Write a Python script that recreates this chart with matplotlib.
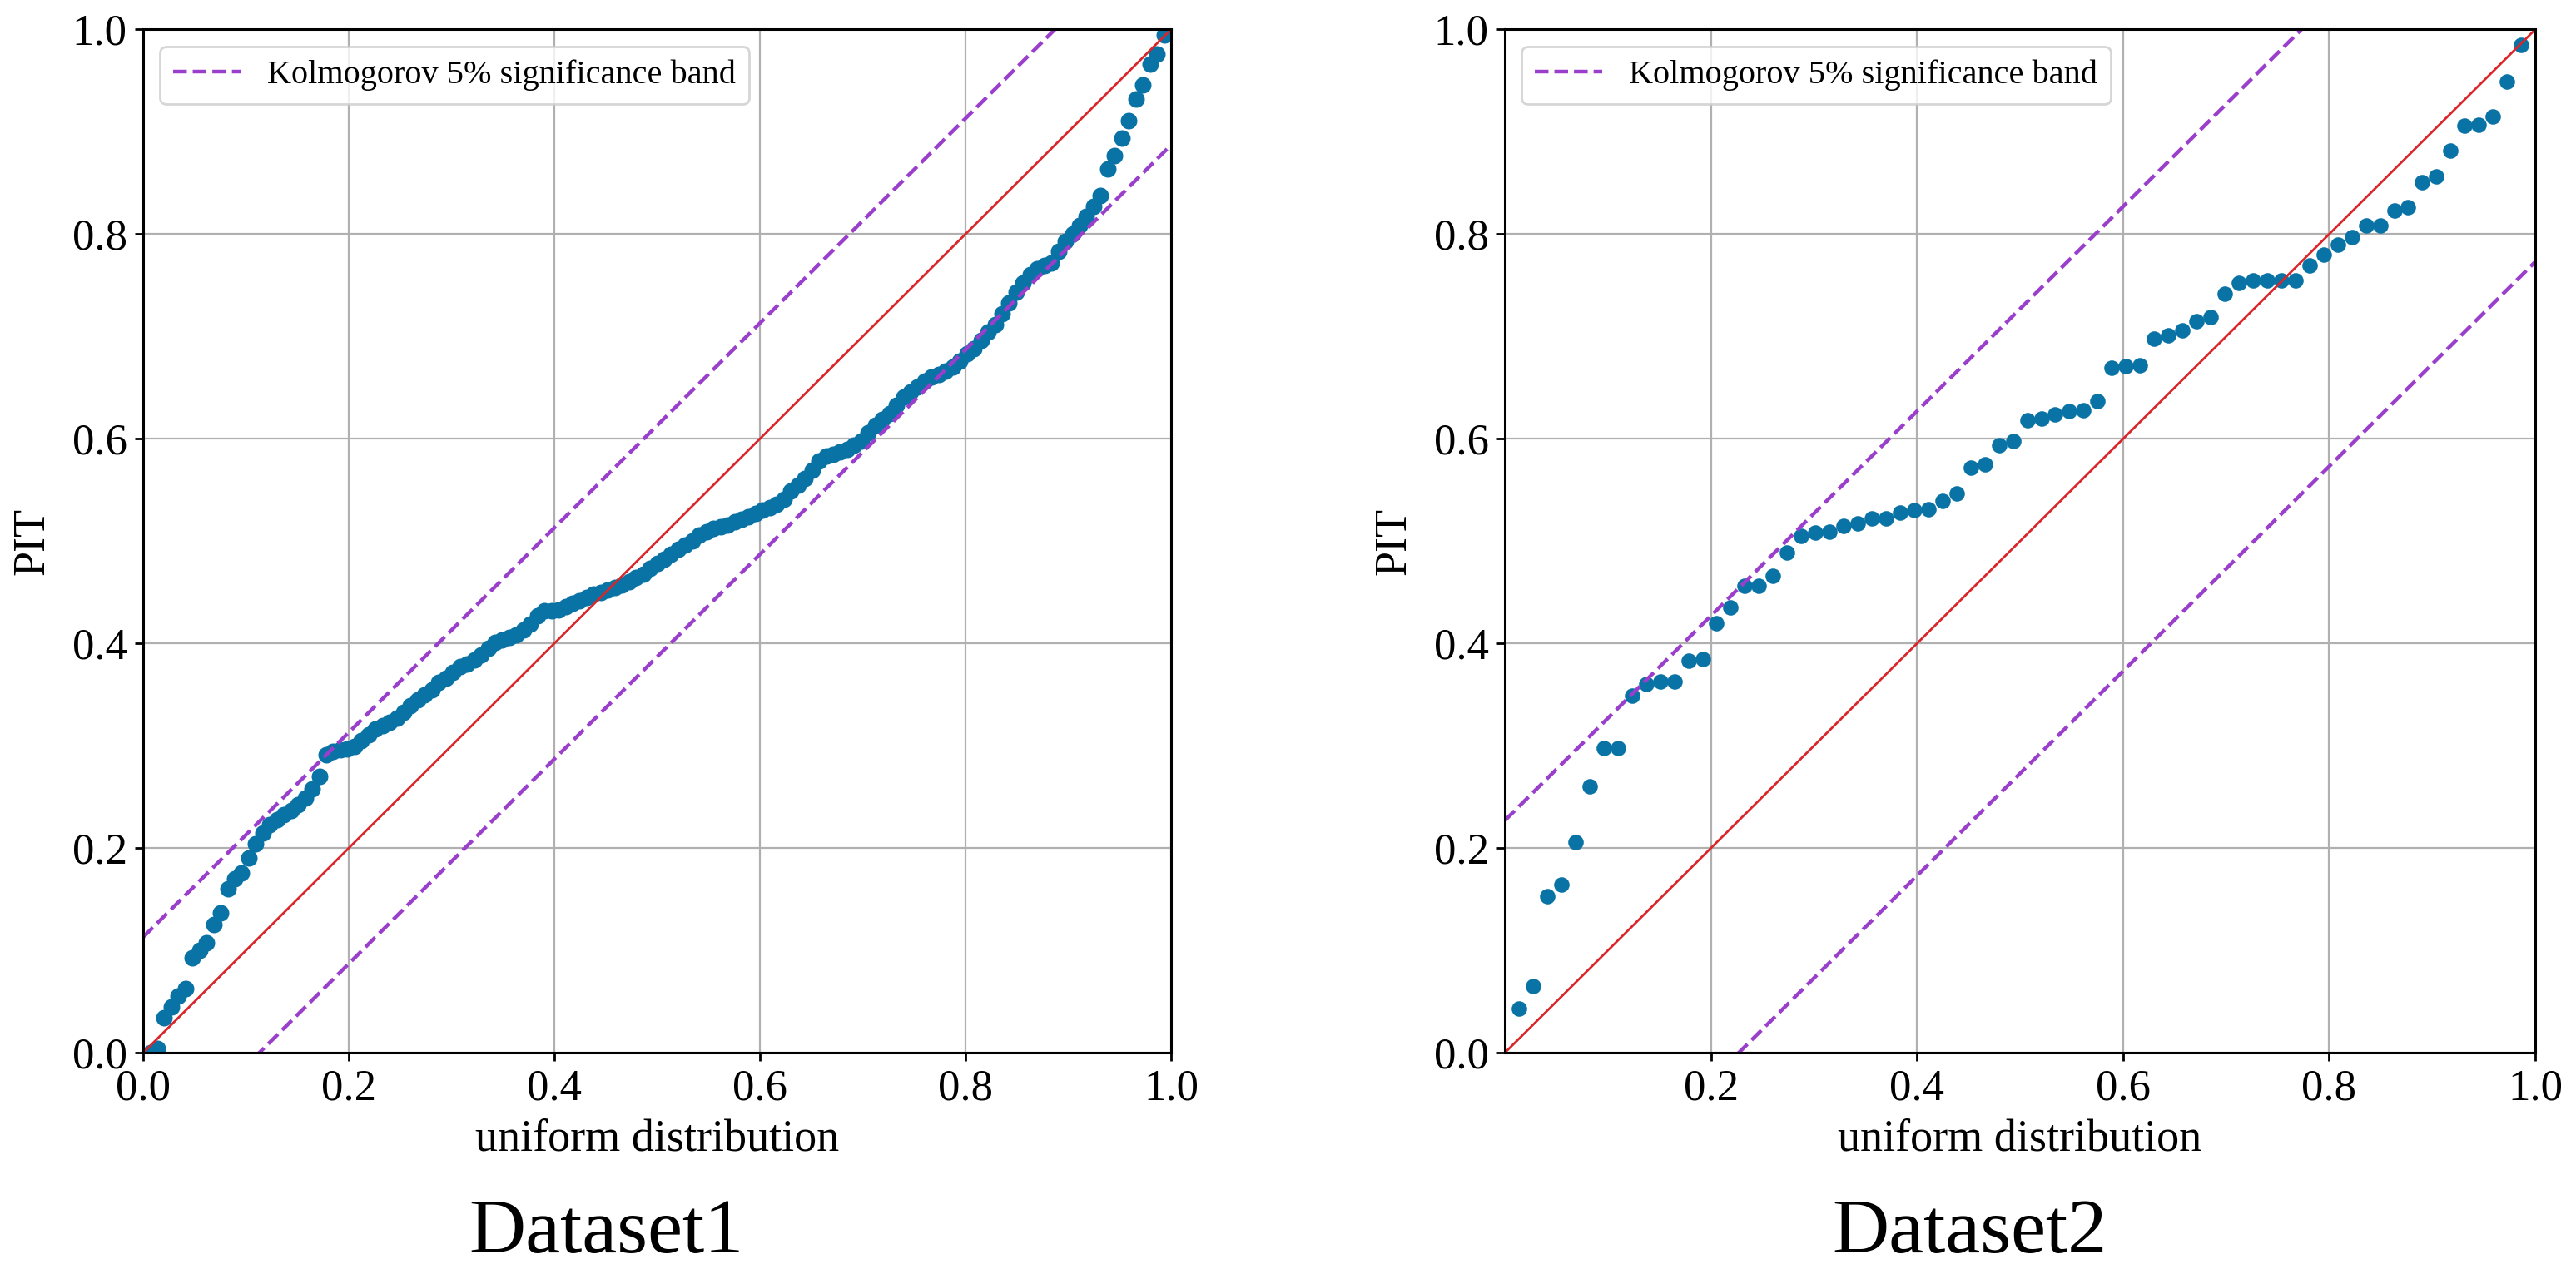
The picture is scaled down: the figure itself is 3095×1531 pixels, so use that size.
import numpy as np
import matplotlib
matplotlib.use("Agg")
import matplotlib.pyplot as plt

SERIF = ["Liberation Serif", "DejaVu Serif"]
plt.rcParams["font.family"] = SERIF

DOT = "#0a73a5"
RED = "#d9262a"
PURPLE = "#9a3fcc"

# sorted PIT values
pit1 = [0.000, 0.004, 0.034, 0.045, 0.055, 0.063, 0.093, 0.100, 0.107, 0.125,
        0.137, 0.160, 0.170, 0.176, 0.190, 0.204, 0.215, 0.223, 0.228, 0.233,
        0.237, 0.242, 0.249, 0.258, 0.270, 0.2915, 0.2945, 0.296, 0.297, 0.299,
        0.305, 0.311, 0.316, 0.320, 0.323, 0.327, 0.333, 0.339, 0.345, 0.350,
        0.355, 0.362, 0.366, 0.372, 0.377, 0.380, 0.384, 0.389, 0.395, 0.401,
        0.403, 0.406, 0.408, 0.413, 0.419, 0.427, 0.432, 0.432, 0.433, 0.436,
        0.439, 0.442, 0.445, 0.448, 0.450, 0.452, 0.455, 0.457, 0.460, 0.464,
        0.468, 0.473, 0.478, 0.482, 0.487, 0.492, 0.496, 0.500, 0.506, 0.509,
        0.512, 0.514, 0.516, 0.519, 0.521, 0.524, 0.527, 0.530, 0.533, 0.536,
        0.541, 0.549, 0.555, 0.561, 0.569, 0.578, 0.583, 0.585, 0.587, 0.590,
        0.594, 0.598, 0.606, 0.613, 0.619, 0.625, 0.633, 0.641, 0.646, 0.651,
        0.656, 0.660, 0.663, 0.666, 0.670, 0.676, 0.683, 0.688, 0.696, 0.704,
        0.712, 0.722, 0.733, 0.743, 0.752, 0.760, 0.766, 0.769, 0.772, 0.783,
        0.793, 0.800, 0.808, 0.817, 0.827, 0.838, 0.864, 0.877, 0.894, 0.911,
        0.932, 0.946, 0.966, 0.976, 0.995]
pit2 = [0.0435, 0.065, 0.153, 0.164, 0.206, 0.260, 0.2976, 0.298, 0.349, 0.360,
        0.363, 0.363, 0.383, 0.385, 0.4195, 0.4355, 0.456, 0.456, 0.466, 0.4885,
        0.505, 0.508, 0.509, 0.515, 0.517, 0.5225, 0.5225, 0.528, 0.530, 0.531,
        0.539, 0.5465, 0.572, 0.575, 0.594, 0.598, 0.618, 0.620, 0.624, 0.627,
        0.628, 0.637, 0.669, 0.671, 0.672, 0.698, 0.701, 0.706, 0.715, 0.719,
        0.742, 0.752, 0.755, 0.755, 0.755, 0.755, 0.769, 0.780, 0.790, 0.797,
        0.808, 0.808, 0.823, 0.826, 0.851, 0.856, 0.8815, 0.906, 0.907, 0.915,
        0.9487, 0.985]

# Kolmogorov band half-widths
band1 = 0.113
band2 = 0.227

names = ["Dataset1", "Dataset2"]
ticks1 = [0.0, 0.2, 0.4, 0.6, 0.8, 1.0]
ticks2 = [0.2, 0.4, 0.6, 0.8, 1.0]

fig = plt.figure(figsize=(15.475, 7.655), dpi=200)
ax1 = fig.add_axes([0.0556, 0.1737, 0.3990, 0.8032])
ax2 = fig.add_axes([0.5842, 0.1737, 0.4000, 0.8032])

line = np.array([0.0, 1.0])
panels = ((ax1, pit1, band1, ticks1, 7.2), (ax2, pit2, band2, ticks2, 6.7))
for ax, pit, band, xt, ms in panels:
    n = len(pit)
    u = np.arange(1, n + 1) / (n + 1)
    ax.plot(u, pit, "o", color=DOT, markersize=ms, markeredgewidth=0)
    ax.plot(line, line, color=RED, linewidth=1.0)
    ax.plot(line, line + band, "--", color=PURPLE, linewidth=1.6,
            label="Kolmogorov 5% significance band")
    ax.plot(line, line - band, "--", color=PURPLE, linewidth=1.6)
    ax.set_xlim(0, 1)
    ax.set_ylim(0, 1)
    ax.set_xticks(xt)
    ax.set_yticks(ticks1)
    ax.grid(True, color="#b0b0b0", linewidth=0.8)
    ax.set_axisbelow(True)
    for s in ax.spines.values():
        s.set_linewidth(1.1)
    ax.tick_params(labelsize=19, length=3.5, width=1.0)
    ax.set_xlabel("uniform distribution", fontsize=19.5, labelpad=4)
    ax.set_ylabel("PIT", fontsize=19.5, labelpad=8)
    ax.legend(loc="upper left", fontsize=14.5, framealpha=0.8)

fig.text(0.2355, 0.017, names[0], fontsize=34, ha="center", va="baseline")
fig.text(0.7645, 0.017, names[1], fontsize=34, ha="center", va="baseline")

fig.savefig("out.png", dpi=200, facecolor="white")
